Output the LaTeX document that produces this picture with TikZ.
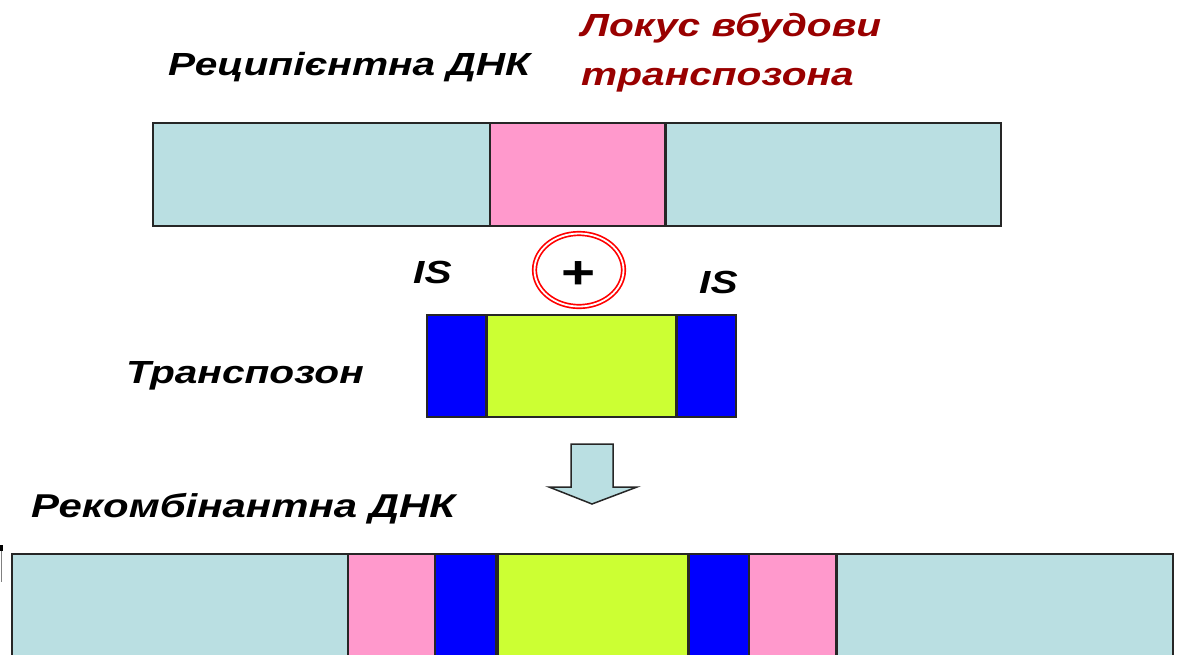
\documentclass[tikz,border=0pt]{standalone}
\usepackage{fontspec}
\newfontfamily\lab{Liberation Sans}[FakeStretch=1.27]
\usetikzlibrary{shapes.geometric}

\definecolor{dnacyan}{HTML}{BADFE2}
\definecolor{locpink}{HTML}{FF99CC}
\definecolor{isblue}{HTML}{0000FF}
\definecolor{tngreen}{HTML}{CCFF33}
\definecolor{edgegray}{HTML}{262626}
\definecolor{loctext}{HTML}{990000}

\tikzset{
  seg/.style={draw=edgegray, line width=1.5pt, inner sep=0pt, outer sep=0pt,
              anchor=north west},
  cyanseg/.style={seg, fill=dnacyan},
  pinkseg/.style={seg, fill=locpink},
  blueseg/.style={seg, fill=isblue},
  greenseg/.style={seg, fill=tngreen},
  lbl/.style={inner sep=0pt, anchor=base west,
              font=\lab\bfseries\itshape\fontsize{32}{38}\selectfont},
  blockarrow/.style={draw=edgegray, line width=1.5pt, fill=dnacyan, line join=miter},
}

\begin{document}
\begin{tikzpicture}[x=1pt, y=-1pt]
\useasboundingbox (0,0) rectangle (1178,654);

% recipient DNA with the insertion locus
\node[cyanseg, minimum width=337pt, minimum height=103pt] (r1) at (153,123) {};
\node[pinkseg, minimum width=175pt, minimum height=103pt] (r2) at (490,123) {};
\node[cyanseg, minimum width=335pt, minimum height=103pt] (r3) at (666,123) {};

\node[lbl] (recip) at (168,75) {Реципієнтна ДНК};
\node[lbl, text=loctext] (locus1) at (581,36) {Локус вбудови};
\node[lbl, text=loctext] (locus2) at (581,85) {транспозона};

% joining sign
\node[ellipse, draw=red, double=white, double distance=1.8pt, line width=1.7pt,
      minimum width=89pt, minimum height=73pt, inner sep=0pt,
      font=\lab\bfseries\fontsize{46}{46}\selectfont] (plus) at (579,270)
      {\raisebox{-18pt}[0pt][0pt]{+}};

\node[lbl] (isl) at (413,283) {IS};
\node[lbl] (isr) at (699,293) {IS};

% transposon: IS -- gene -- IS
\node[blueseg, minimum width=59pt, minimum height=102pt] (t1) at (427,315) {};
\node[greenseg, minimum width=189pt, minimum height=102pt] (t2) at (487,315) {};
\node[blueseg, minimum width=59pt, minimum height=102pt] (t3) at (677,315) {};
\node[lbl] (trans) at (126,383) {Транспозон};

% result arrow
\draw[blockarrow] (571,444) -- (613,444) -- (613,487) -- (637,487) -- (592,504)
  -- (549,487) -- (571,487) -- cycle;

\node[lbl, font=\lab\bfseries\itshape\fontsize{33}{38}\selectfont] (recomb) at (31,517)
  {Рекомбінантна ДНК};

% recombinant DNA
\node[cyanseg, minimum width=336pt, minimum height=130pt] (b1) at (12,554) {};
\node[pinkseg, minimum width=87pt, minimum height=130pt] (b2) at (348,554) {};
\node[blueseg, minimum width=61pt, minimum height=130pt] (b3) at (435,554) {};
\node[greenseg, minimum width=190pt, minimum height=130pt] (b4) at (498,554) {};
\node[blueseg, minimum width=60pt, minimum height=130pt] (b5) at (689,554) {};
\node[pinkseg, minimum width=87pt, minimum height=130pt] (b6) at (749,554) {};
\node[cyanseg, minimum width=336pt, minimum height=130pt] (b7) at (837,554) {};

% edge mark at the left margin
\fill[black] (0,545) rectangle (3,551);
\draw[gray, line width=1.5pt] (1.5,551) -- (1.5,582);
\end{tikzpicture}
\end{document}
